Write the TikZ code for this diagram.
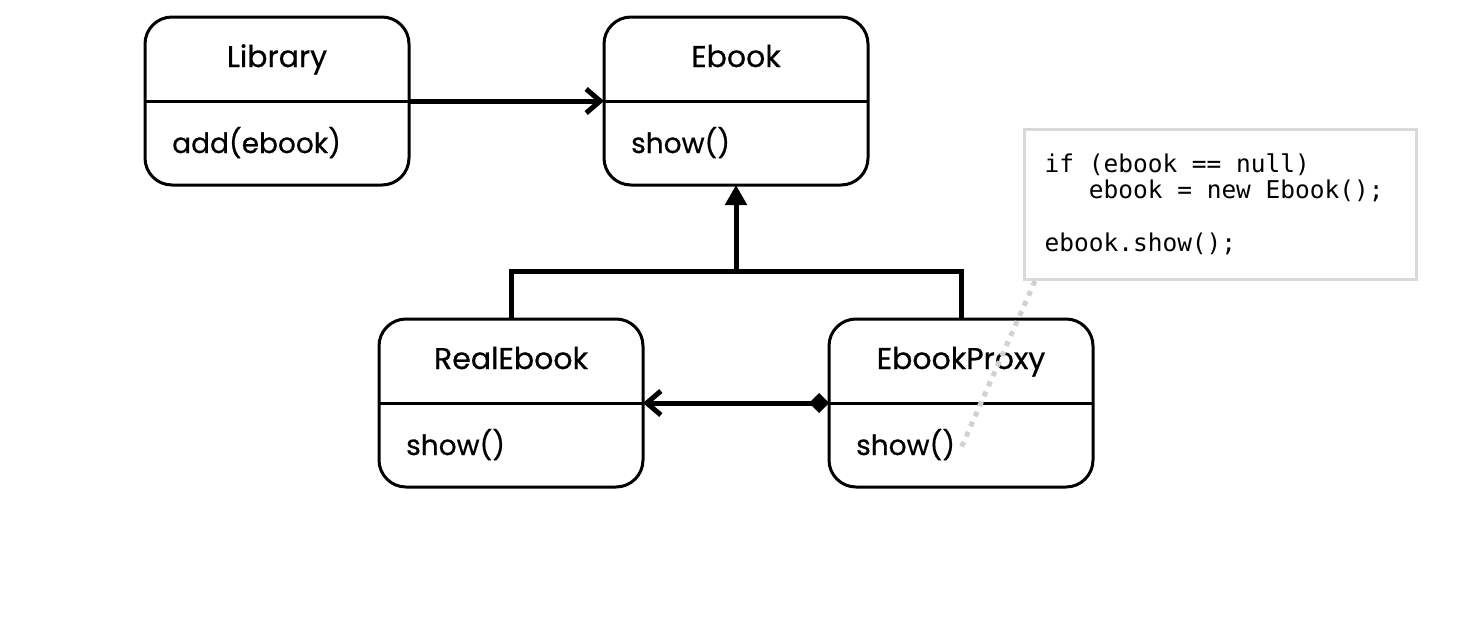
\documentclass[tikz,border=0pt]{standalone}
\usepackage{fontspec}
\setmainfont{Poppins}
\newfontfamily\classfont{Poppins}[FakeBold=0.6]
\newfontfamily\codefont{DejaVu Sans Mono}
\newcommand\gap{\hphantom{0}}
\usetikzlibrary{arrows.meta,positioning,calc}

\tikzset{
  classbox/.style={draw, line width=3pt, rounded corners=27pt, minimum width=264pt, minimum height=168pt, inner sep=0pt, outer sep=0pt},
  classname/.style={anchor=base, inner sep=0pt, font=\classfont\fontsize{30}{34}\selectfont},
  method/.style={anchor=base west, inner sep=0pt, font=\classfont\fontsize{28}{32}\selectfont},
  divider/.style={line width=3pt},
  link/.style={line width=5pt},
  assoc/.style={link, -{Straight Barb[length=14pt,width=24pt]}},
  inherit/.style={link, -{Triangle[length=20pt,width=21pt]}},
  notebox/.style={draw=black!15, line width=3pt, text width=352pt, align=left, inner xsep=20pt, inner ysep=0pt, minimum height=150pt,
    font=\codefont\fontsize{24.5}{26.5}\selectfont},
  hint/.style={line width=5pt, black!18, dash pattern=on 5pt off 6pt}
}

\begin{document}
\begin{tikzpicture}[x=1pt, y=-1pt]
        \useasboundingbox (0,0) rectangle (1460,627);

        \node (lib) [classbox] at (277,101) {};
        \node (ebook) [classbox, right=195pt of lib] {};
        \node (real) [classbox, below=134pt of ebook, xshift=-225pt] {};
        \node (proxy) [classbox, right=186pt of real] {};

        \node (libname) [classname] at ([yshift=34pt]lib.center) {Library};
        \node (libadd) [method] at ([xshift=27pt, yshift=-52pt]lib.west) {add(ebook)};
        \node (ebookname) [classname] at ([yshift=34pt]ebook.center) {Ebook};
        \node (ebookshow) [method] at ([xshift=27pt, yshift=-52pt]ebook.west) {show()};
        \node (realname) [classname] at ([yshift=34pt]real.center) {RealEbook};
        \node (realshow) [method] at ([xshift=27pt, yshift=-52pt]real.west) {show()};
        \node (proxyname) [classname] at ([yshift=34pt]proxy.center) {EbookProxy};
        \node (proxyshow) [method] at ([xshift=27pt, yshift=-52pt]proxy.west) {show()};

        \draw[divider] (lib.west) -- (lib.east);
        \draw[divider] (ebook.west) -- (ebook.east);
        \draw[divider] (real.west) -- (real.east);
        \draw[divider] (proxy.west) -- (proxy.east);

        \node (note) [notebox, anchor=north west] at (1023,128)
          {if\gap(ebook\gap==\gap null)\\
           \gap\gap\gap ebook\gap=\gap new\gap Ebook();\\[26.5pt]
           ebook.show();};

        \coordinate (fork) at ([yshift=-86pt]ebook.south);
        \coordinate (notefoot) at ([xshift=12pt]note.south west);
        \coordinate (showtip) at ([xshift=6pt, yshift=-3pt]proxyshow.east);

        \draw[assoc] (lib.east) -- (ebook.west);
        \draw[inherit] (fork) -- (ebook.south);
        \draw[link] (real.north) |- (fork) -| (proxy.north);
        \draw[link, {Diamond[length=20pt,width=20pt]}-{Straight Barb[length=14pt,width=24pt]}] (proxy.west) -- (real.east);
        \draw[hint] (notefoot) -- (showtip);
      \end{tikzpicture}
\end{document}
